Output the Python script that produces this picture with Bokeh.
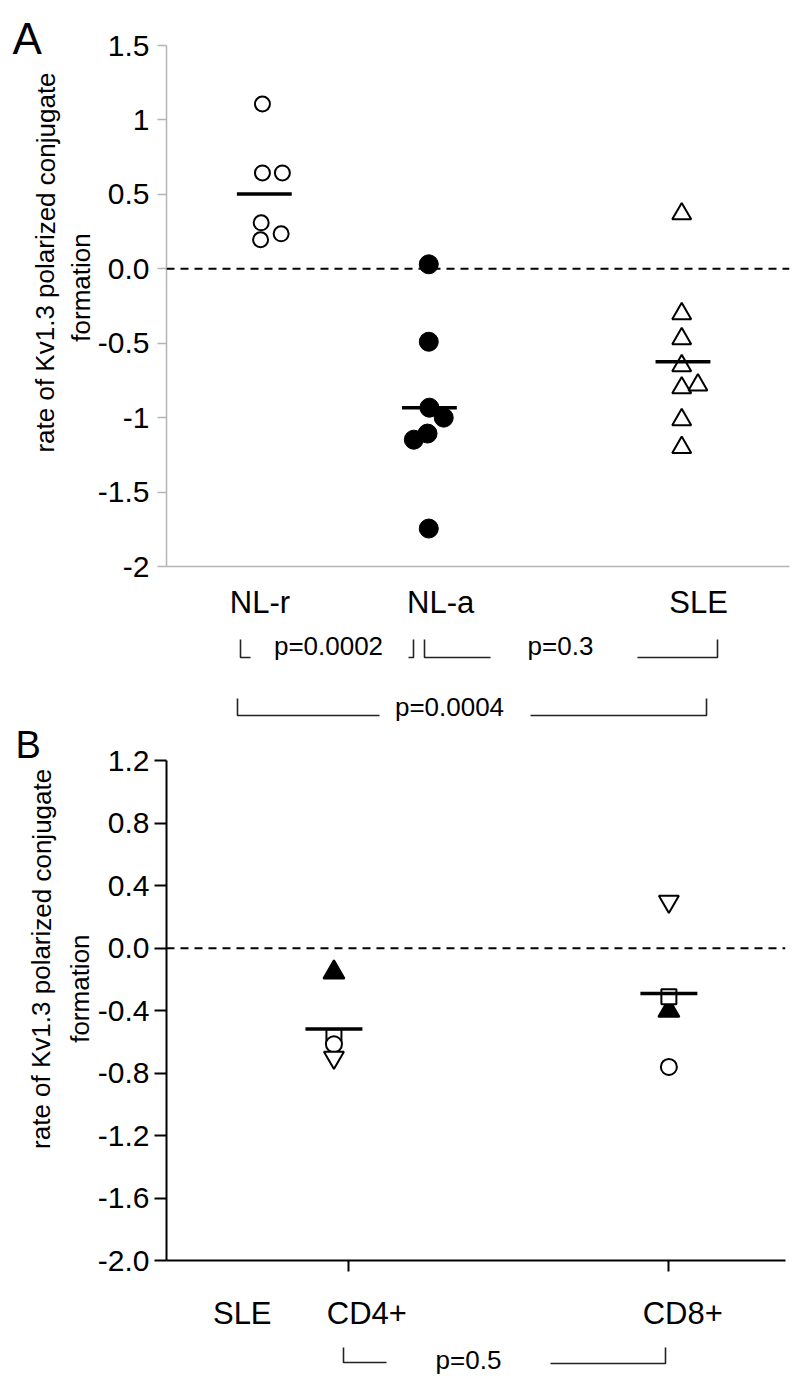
from bokeh.plotting import figure
from bokeh.models import Range1d, FixedTicker, Span
from bokeh.layouts import column, row
from bokeh.embed import file_html
from bokeh.resources import INLINE
from bokeh.core.properties import value

FONT = "Liberation Sans"

# ---------------- data ----------------
groups_a = ["NL-r", "NL-a", "SLE"]
nl_r = [1.107, 0.644, 0.644, 0.309, 0.195, 0.235]
nl_a = [0.030, -0.490, -0.933, -1.000, -1.107, -1.148, -1.745]
sle_a = [0.369, -0.302, -0.470, -0.651, -0.800, -0.780, -1.014, -1.200]
means_a = [0.503, -0.933, -0.624]
pvals_a = ["p=0.0002", "p=0.3", "p=0.0004"]
yticks_a = [1.5, 1.0, 0.5, 0.0, -0.5, -1.0, -1.5, -2.0]
yticklabels_a = ["1.5", "1", "0.5", "0.0", "-0.5", "-1", "-1.5", "-2"]

row_label_b = "SLE"
groups_b = ["CD4+", "CD8+"]
cd4 = [-0.154, -0.566, -0.615, -0.700]   # patients: filled tri, square, circle, inverted tri
cd8 = [-0.400, -0.310, -0.760, 0.300]
means_b = [-0.517, -0.289]
pval_b = "p=0.5"
yticks_b = [1.2, 0.8, 0.4, 0.0, -0.4, -0.8, -1.2, -1.6, -2.0]
yticklabels_b = ["1.2", "0.8", "0.4", "0.0", "-0.4", "-0.8", "-1.2", "-1.6", "-2.0"]
ytitle = ["rate of Kv1.3 polarized conjugate", "formation"]

# ---------------- layout (positions on the 0..10 x scale) ----------------
pos_a = [1.57, 4.22, 8.29]
jit_nlr = [-0.03, -0.03, 0.29, -0.05, -0.06, 0.27]
jit_nla = [-0.01, -0.01, 0.0, 0.23, -0.03, -0.25, -0.01]
jit_sle = [-0.02, -0.02, -0.02, -0.02, -0.02, 0.24, -0.02, -0.02]
lab_a = [1.50, 4.40, 8.54]
half_a = 0.44

pos_b = [2.705, 8.116]
tick_b = [2.947, 8.116]
lab_b = [1.224, 3.237, 8.341]
half_b = 0.46

patient_marker = ["triangle", "square", "circle", "inverted_triangle"]
patient_fill = ["black", "white", "white", "white"]
patient_size = [21, 15, 16, 20]

LEFT_W = 94
ROT = 1.5707963

# panel geometry (page pixels)
A_TOP, A_AXIS_TOP, A_AXIS_BOT, A_H = 0, 45, 566, 625
B_TOP, B_AXIS_TOP, B_AXIS_BOT = 723, 762, 1282
B_H = 1333 - B_TOP
A_PPU = (A_AXIS_BOT - A_AXIS_TOP) / 3.5
B_PPU = (B_AXIS_BOT - B_AXIS_TOP) / 3.2


def style_common(p):
    p.grid.visible = False
    p.outline_line_color = None
    p.background_fill_color = "white"
    p.border_fill_color = "white"


def blank(width, height, xr, yr):
    f = figure(width=width, height=height, x_range=xr, y_range=yr,
               output_backend="svg", toolbar_location=None,
               x_axis_location=None, y_axis_location=None,
               min_border_left=0, min_border_right=0, min_border_top=0, min_border_bottom=0)
    style_common(f)
    return f


def left_strip(height, top, frame_bottom, letter, letter_xy, letter_size, l1, l2):
    # its frame is aligned (by the row) with the neighbouring plot frame: top..frame_bottom
    f = blank(LEFT_W, height, Range1d(0, LEFT_W), Range1d(frame_bottom, top))
    f.text(x=[letter_xy[0]], y=[letter_xy[1]], text=[letter], text_font=value(FONT),
           text_font_size=letter_size, text_align="left", text_baseline="middle",
           text_color="black")
    f.text(x=[l1[0], l2[0]], y=[l1[1], l2[1]], text=ytitle, angle=ROT,
           text_font=value(FONT), text_font_size="26px", text_align="center",
           text_baseline="middle", text_color="black")
    return f


# ================= Panel A =================
LA = left_strip(A_H, A_TOP, A_AXIS_BOT, "A", (12, 37.5), "44px", (45, 262), (80, 287))

pA = figure(width=800 - LEFT_W, height=A_H, x_range=Range1d(0, 10),
            y_range=Range1d(-2.0, 1.5 + (A_AXIS_TOP - A_TOP) / A_PPU),
            output_backend="svg", toolbar_location=None,
            min_border_left=164 - LEFT_W, min_border_right=11, min_border_top=0,
            min_border_bottom=A_H - A_AXIS_BOT)
style_common(pA)
gray = "#b4b4b4"
ya = pA.yaxis[0]
ya.ticker = FixedTicker(ticks=yticks_a)
ya.bounds = (-2.0, 1.5)
ya.major_label_overrides = {t: l for t, l in zip(yticks_a, yticklabels_a)}
ya.axis_line_color = gray
ya.axis_line_width = 1.5
ya.major_tick_line_color = gray
ya.major_tick_line_width = 1.5
ya.major_tick_out = 9
ya.major_tick_in = 0
ya.minor_tick_line_color = None
ya.major_label_standoff = 8
ya.major_label_text_font = FONT
ya.major_label_text_font_size = "30px"
ya.major_label_text_color = "black"

xa = pA.xaxis[0]
xa.ticker = FixedTicker(ticks=lab_a)
xa.major_label_overrides = {t: l for t, l in zip(lab_a, groups_a)}
xa.axis_line_color = gray
xa.axis_line_width = 1.5
xa.major_tick_out = 0
xa.major_tick_in = 0
xa.minor_tick_line_color = None
xa.major_label_standoff = 18
xa.major_label_text_font = FONT
xa.major_label_text_font_size = "31px"
xa.major_label_text_color = "black"

pA.add_layout(Span(location=0, dimension="width", line_color="black",
                   line_width=2, line_dash="8 6"))

pA.scatter([pos_a[0] + j for j in jit_nlr], nl_r, marker="circle", size=15,
           fill_color="white", line_color="black", line_width=2)
pA.scatter([pos_a[1] + j for j in jit_nla], nl_a, marker="circle", size=19,
           fill_color="black", line_color="black", line_width=1)
pA.scatter([pos_a[2] + j for j in jit_sle], sle_a, marker="triangle", size=19,
           fill_color="white", fill_alpha=0, line_color="black", line_width=2)
pA.segment(x0=[c - half_a for c in pos_a], x1=[c + half_a for c in pos_a],
           y0=means_a, y1=means_a, line_color="black", line_width=3.5)

# ---------- Panel A significance strip (page-pixel frame) ----------
sA = blank(800, B_TOP - A_H, Range1d(0, 800), Range1d(B_TOP, A_H))
br_xs = [[240, 240, 250], [408, 413, 413], [424, 424, 490], [637, 717, 717],
         [237, 237, 379], [530, 706, 706]]
br_ys = [[639, 657, 657], [657, 657, 639], [639, 657, 657], [657, 657, 639],
         [698, 715, 715], [715, 715, 698]]
sA.multi_line(br_xs, br_ys, line_color="#222222", line_width=1.6)
sA.text(x=[328, 560, 449], y=[645.5, 645.5, 706.5], text=pvals_a,
        text_font=value(FONT), text_font_size="26px", text_align="center",
        text_baseline="middle", text_color="black")

# ================= Panel B =================
LB = left_strip(B_H, B_TOP, B_AXIS_BOT, "B", (15, 745), "38px", (41, 968), (79, 999))

pB = figure(width=800 - LEFT_W, height=B_H, x_range=Range1d(0, 10),
            y_range=Range1d(-2.0, 1.2 + (B_AXIS_TOP - B_TOP) / B_PPU),
            output_backend="svg", toolbar_location=None,
            min_border_left=164 - LEFT_W, min_border_right=15, min_border_top=0,
            min_border_bottom=B_TOP + B_H - B_AXIS_BOT)
style_common(pB)
yb = pB.yaxis[0]
yb.ticker = FixedTicker(ticks=yticks_b)
yb.bounds = (-2.0, 1.2)
yb.major_label_overrides = {t: l for t, l in zip(yticks_b, yticklabels_b)}
yb.axis_line_color = "black"
yb.axis_line_width = 2
yb.major_tick_line_color = "black"
yb.major_tick_line_width = 2
yb.major_tick_out = 12
yb.major_tick_in = 0
yb.minor_tick_line_color = None
yb.major_label_standoff = 5
yb.major_label_text_font = FONT
yb.major_label_text_font_size = "30px"
yb.major_label_text_color = "black"

xb = pB.xaxis[0]
xb.ticker = FixedTicker(ticks=lab_b, minor_ticks=tick_b)
xb.major_label_overrides = {t: l for t, l in zip(lab_b, [row_label_b] + groups_b)}
xb.axis_line_color = "black"
xb.axis_line_width = 2
xb.major_tick_line_color = None
xb.major_tick_out = 0
xb.major_tick_in = 0
xb.minor_tick_line_color = "black"
xb.minor_tick_line_width = 2
xb.minor_tick_out = 11
xb.minor_tick_in = 0
xb.major_label_standoff = 24
xb.major_label_text_font = FONT
xb.major_label_text_font_size = "31px"
xb.major_label_text_color = "black"

pB.add_layout(Span(location=0, dimension="width", line_color="black",
                   line_width=2, line_dash="8 6"))

for i in range(4):
    pB.scatter([pos_b[0], pos_b[1]], [cd4[i], cd8[i]], marker=patient_marker[i],
               size=patient_size[i], fill_color=patient_fill[i], line_color="black",
               line_width=2)
pB.segment(x0=[c - half_b for c in pos_b], x1=[c + half_b for c in pos_b],
           y0=means_b, y1=means_b, line_color="black", line_width=3.5)

# ---------- Panel B significance strip ----------
S_TOP = B_TOP + B_H
sB = blank(800, 1378 - S_TOP, Range1d(0, 800), Range1d(1378, S_TOP))
sB.multi_line([[343, 343, 386], [550, 665, 665]], [[1347, 1362, 1362], [1363, 1363, 1347]],
              line_color="#222222", line_width=1.6)
sB.text(x=[468], y=[1359.5], text=[pval_b], text_font=value(FONT), text_font_size="26px",
        text_align="center", text_baseline="middle", text_color="black")

layout = column(row(LA, pA, spacing=0), sA, row(LB, pB, spacing=0), sB, spacing=0)
open("out.html", "w").write(file_html(layout, INLINE))
